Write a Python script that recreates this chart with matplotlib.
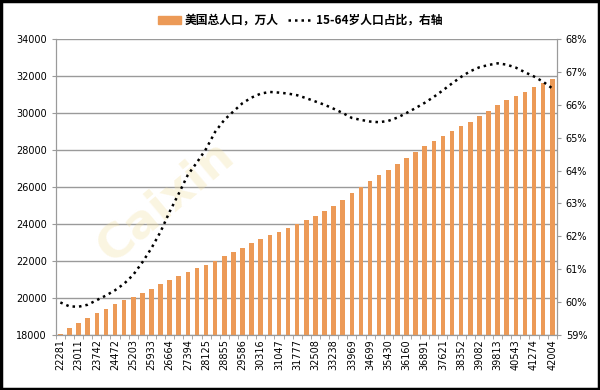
import numpy as np
import matplotlib
matplotlib.use("Agg")
import matplotlib.pyplot as plt
from matplotlib.patches import Rectangle

plt.rcParams['font.family'] = ['Noto Sans CJK SC', 'DejaVu Sans']

# x-axis category labels (Excel date serials), one bar per year 1960-2014
tick_labels = ["22281", "23011", "23742", "24472", "25203", "25933", "26664",
               "27394", "28125", "28855", "29586", "30316", "31047", "31777",
               "32508", "33238", "33969", "34699", "35430", "36160", "36891",
               "37621", "38352", "39082", "39813", "40543", "41274", "42004"]

# total population, 10k persons
population = [18067, 18367, 18654, 18924, 19189, 19430, 19656, 19871, 20071, 20268,
              20505, 20768, 20990, 21191, 21390, 21597, 21803, 22024, 22259, 22506,
              22723, 22947, 23166, 23379, 23583, 23792, 24013, 24229, 24450, 24682,
              24962, 25298, 25651, 25992, 26314, 26628, 26940, 27265, 27585, 27899,
              28216, 28497, 28763, 29011, 29273, 29539, 29838, 30123, 30409, 30677,
              30935, 31160, 31391, 31612, 31858]

# share of population aged 15-64, %
share_15_64 = [59.99, 59.87, 59.86, 59.92, 60.06, 60.20, 60.36, 60.56, 60.83, 61.21,
               61.64, 62.14, 62.75, 63.30, 63.87, 64.25, 64.66, 65.18, 65.54, 65.80,
               66.05, 66.22, 66.34, 66.39, 66.37, 66.34, 66.29, 66.20, 66.10, 66.00,
               65.88, 65.75, 65.60, 65.54, 65.49, 65.47, 65.51, 65.61, 65.75, 65.90,
               66.06, 66.24, 66.44, 66.65, 66.85, 67.02, 67.14, 67.21, 67.26, 67.22,
               67.13, 66.99, 66.86, 66.70, 66.50]

bar_color = "#EC9A57"
grid_color = "#9A9A9A"

fig = plt.figure(figsize=(6, 3.9), dpi=100)
ax = fig.add_axes([0.093, 0.141, 0.835, 0.759])

x = np.arange(len(population))
ax.bar(x, population, width=0.5, color=bar_color, zorder=2)
ax.set_xlim(-0.5, len(population) - 0.5)
ax.set_ylim(18000, 34000)
ax.set_yticks(np.arange(18000, 34001, 2000))
ax.yaxis.grid(True, color=grid_color, linewidth=1.0, zorder=0)
ax.set_axisbelow(True)

ax.set_xticks(x[::2])
ax.set_xticklabels(tick_labels, rotation=90, fontsize=7, family='DejaVu Sans')
ax.set_xticks(np.arange(-0.5, len(population), 1), minor=True)
ax.tick_params(axis='x', which='major', length=0, pad=3)
ax.tick_params(axis='x', which='minor', length=3, color=grid_color)
ax.tick_params(axis='y', labelsize=7, length=3, color=grid_color)
for lab in ax.get_yticklabels():
    lab.set_family('DejaVu Sans')

ax.spines['top'].set_visible(False)
for side in ['left', 'bottom', 'right']:
    ax.spines[side].set_color(grid_color)

ax2 = ax.twinx()
line, = ax2.plot(x, share_15_64, color="black", linestyle=(0, (1.0, 1.6)),
                 linewidth=1.8, zorder=3)
ax2.set_ylim(59, 68)
ax2.set_yticks(np.arange(59, 68.1, 1))
ax2.set_yticklabels([f"{v}%" for v in range(59, 69)], fontsize=7, family='DejaVu Sans')
ax2.tick_params(axis='y', length=3, color=grid_color)
ax2.spines['top'].set_visible(False)
for side in ['left', 'bottom', 'right']:
    ax2.spines[side].set_color(grid_color)

# faint watermark
ax.text(0.22, 0.45, "Caixin", transform=ax.transAxes, fontsize=34,
        color="#F3E2A8", alpha=0.35, rotation=40, ha='center', va='center',
        fontweight='bold', family='DejaVu Sans', zorder=1)

# legend
bar_handle = Rectangle((0, 0), 1, 1, color=bar_color)
fig.legend([bar_handle, line], ["美国总人口，万人", "15-64岁人口占比，右轴"],
           loc='center', bbox_to_anchor=(0.5, 0.948), ncol=2, frameon=False,
           prop={'size': 8.5, 'weight': 'bold'}, handlelength=2.0,
           handletextpad=0.3, columnspacing=0.8)

# outer frame
fig.patches.append(Rectangle((0.002, 0.003), 0.996, 0.994, transform=fig.transFigure,
                             fill=False, edgecolor="black", linewidth=2.5))

fig.savefig("out.png", dpi=100)
